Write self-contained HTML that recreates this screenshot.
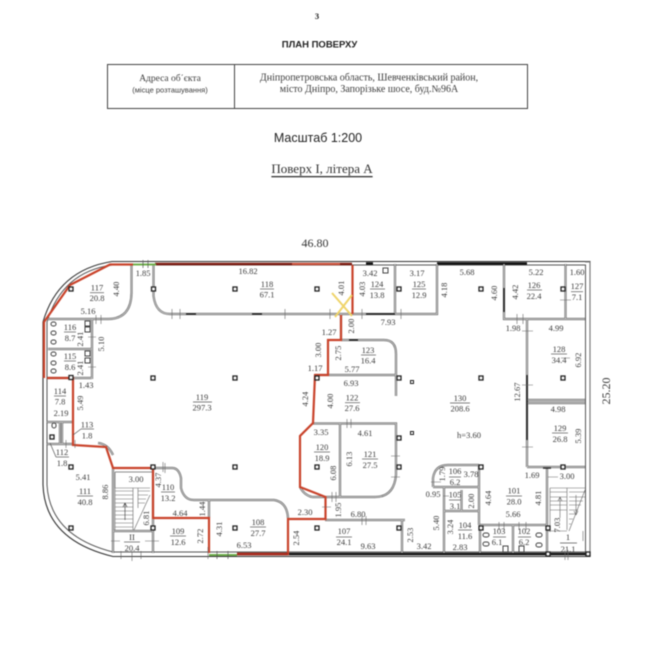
<!DOCTYPE html>
<html><head><meta charset="utf-8">
<style>
html,body{margin:0;padding:0;background:#fff}
svg{display:block;filter:blur(.4px)}
text{font-family:"Liberation Serif",serif;font-size:8.500px;fill:#3c3c3c;text-anchor:middle;dominant-baseline:central}
.s{font-family:"Liberation Sans",sans-serif}
.f line,.fl{stroke:#555;stroke-width:.7}
.c{fill:#fff;stroke:#222;stroke-width:1.3}
.t{stroke:#666;stroke-width:.6;fill:none}
</style></head><body>
<svg width="648" height="670" viewBox="0 0 648 670" xmlns="http://www.w3.org/2000/svg">
<defs>
<path id="w" fill="none" d="M131.500 264V293Q131 319 108 319H48M92 319V379M48 349H92M153.500 264V296Q156 314 170 314H437V264M395 264V314M504 264V319H585M565.500 264V319M527 319V467M527 400H585M527 403H585M527 467H585M547 467V554M480 525H547M479 465V525M433 487H479M444 487V553M461.500 490V511M444 511H479M480 525V553M513 525V553M433 487V478Q435 465 448 465H479M341 340H384Q396 340 396 354V396M315 375H396M341 314V340M313 423.500H396V475Q394 497 375 497H312M340 424V497M300 487Q304 495 312 497M325 520H405M402 520V553M153 468H172Q179 468 181 478V488Q184 500 194 500H274Q287 502 288 518M209 500V518M98 443Q108 444 113 455M113 468V553M153 468V553M113 531H153M47 422H73M47 378H92M47 444H73M60 422V444M62 422V444"/>
</defs>

<!-- header -->
<text x="317" y="16" style="font-weight:bold;fill:#222">3</text>
<text x="319.500" y="45" class="s" style="font-size:9.500px;font-weight:bold;fill:#222">ПЛАН ПОВЕРХУ</text>
<rect x="107.500" y="64.500" width="420" height="44" fill="none" stroke="#444" stroke-width="1"/>
<line x1="234.500" y1="64" x2="234.500" y2="109" stroke="#444"/>
<text x="170" y="79" style="font-size:9.500px">Адреса об΄єкта</text>
<text x="170" y="90" class="s" style="font-size:7.500px">(місце розташування)</text>
<text x="369" y="78" style="font-size:10px">Дніпропетровська область, Шевченківський район,</text>
<text x="369" y="89.500" style="font-size:10px">місто Дніпро, Запорізьке шосе, буд.№96А</text>
<text x="318" y="138" class="s" style="font-size:12.500px;fill:#222">Масштаб 1:200</text>
<text x="322" y="168.500" style="font-size:13px;fill:#333;text-decoration:underline">Поверх І, літера А</text>
<text x="315" y="243" style="font-size:12px;fill:#333">46.80</text>
<text x="606" y="391" transform="rotate(-90 606 391)" style="font-size:12px;fill:#333">25.20</text>

<!-- outer walls -->
<g fill="none">
<path d="M43 322Q58 270 112 261.500H590V556.500H113Q45 540 43 485Z" stroke="#333" stroke-width="1.100"/>
<path d="M47 322Q62 272 112 265H585.500V552H113Q50 536 47 485Z" stroke="#555" stroke-width="1"/>
<path d="M585 262H590V556H585" stroke="#777" stroke-width="1"/>
<path d="M366 263.500H373M437 263.500H527" stroke="#111" stroke-width="2.400"/>
<path d="M237 554H590" stroke="#111" stroke-width="2.400"/>
<use href="#w" stroke="#666" stroke-width="2.200"/>
<use href="#w" stroke="#c4c4c4" stroke-width="1"/>
<path d="M115 472H152M115 472V488" stroke="#666" stroke-width=".8"/>
<path d="M366 314H395M504 288V312M186 314H196M252 314H262M349 340H358M527 375V440M543 468H551" stroke="#222" stroke-width="1.400"/>
<path d="M155 264H352" stroke="#7f1d12" stroke-width="2.600"/>
<path d="M292 264H340" stroke="#d0553f" stroke-width="2"/>
<!-- red boundary -->
<path d="M44 378V322L70 285L110 264.500H133" stroke="#c9432b" stroke-width="2.200" stroke-linejoin="round"/>
<path d="M47 378H73V445L106 447L113 468H153V518H209V553" stroke="#c9432b" stroke-width="2.200"/>
<path d="M237 554H288V519H325.500V497L300 487V436L313 423L315 375H328V340H341V315M352.500 314V265" stroke="#c9432b" stroke-width="2.200"/>
<path d="M237 554H288" stroke="#a8281a" stroke-width="2.600"/>
<!-- green -->
<path d="M133 264.500H156M209 555H237" stroke="#6fb04c" stroke-width="2"/>
<path d="M143 260V268M148 260V268M217 551V559M228 551V559" stroke="#555" stroke-width=".7"/>
<!-- yellow X -->
<path d="M332 293L352 316M352 295L335 317" stroke="#efd46a" stroke-width="2"/>

<!-- ticks -->
<path class="t" d="M180 309V319M172 309V319M285 309V319M330 309V319M362 309V319M401 309V319M101 315V324M96 315V324M88 337H96M88 367H96M163 462V472M165 463V473M66 440V448M75 440V448M523 314V324M517 314V324M522 331H533M522 385H533M522 447H533M561 358H570M560 300H571M111 541H120M145 541H159M121 551V559M141 551V559M132 552V561M347 419V428M351 419V428M391 456H400M391 477H400M332 492V502M336 492V502M322 507H331M362 516V525M366 516V525M565 550V560M568 550V560M519 522V530M526 522V530M504 522V530M499 522V530M443 496H449M431 482H441M548 477H558M208 547V559"/>
</g>

<!-- stairs -->
<g class="t" stroke="#777">
<path d="M115 488H150M115 488V530M115 491H133M115 495H133M115 499H133M115 503H133M115 507H133M115 511H133M115 515H133M115 519H133M115 523H133M115 527H133M133 488V530M150 495L134 530M138 488V508M138 491H150M138 495H148M138 499H146M138 503H145"/>
<path d="M125 520V503M125 503L123 507M125 503L127 507" stroke="#333"/>
<path d="M550 488H585M550 488V532M550 492H567M550 497H567M550 501H567M550 505H567M550 510H567M569 492H585M569 497H585M569 501H583M569 505H581M569 510H578M569 514H575M569 519H573M569 524H571M567 488V530M585 490L569 531M560 518V497M560 497L558 501M560 497L562 501M576 495V515M576 515L574 511M576 515L578 511M547 531H567M583 531V541"/>
</g>

<!-- toilets -->
<g fill="#fff" stroke="#444" stroke-width="1">
<rect x="51" y="322" width="5" height="4" rx="2"/><rect x="51" y="331" width="5" height="4" rx="2"/><rect x="51" y="340" width="5" height="4" rx="2"/>
<rect x="51" y="352" width="5" height="4" rx="2"/><rect x="51" y="361" width="5" height="4" rx="2"/><rect x="51" y="369" width="5" height="4" rx="2"/>
<rect x="85" y="321" width="5" height="5"/><rect x="85" y="327" width="5" height="5"/><rect x="85" y="351" width="5" height="5"/><rect x="85" y="358" width="5" height="5"/>
<rect x="483" y="533" width="6" height="4" rx="2"/><rect x="483" y="542" width="6" height="4" rx="2"/><rect x="536" y="533" width="6" height="4" rx="2"/><rect x="536" y="543" width="6" height="4" rx="2"/>
<rect x="503" y="546" width="5" height="6"/><rect x="519" y="546" width="5" height="6"/>
<rect x="52" y="423" width="4" height="5" rx="2"/>
<rect x="383" y="268" width="5" height="5"/>
</g>

<!-- columns -->
<g class="c">
<rect x="69" y="287" width="4" height="4"/><rect x="151.500" y="287" width="4" height="4"/><rect x="233" y="287" width="4" height="4"/><rect x="315" y="287" width="4" height="4"/><rect x="397" y="287" width="4" height="4"/><rect x="479" y="287" width="4" height="4"/><rect x="561" y="287" width="4" height="4"/>
<rect x="69" y="375.500" width="4" height="4"/><rect x="151" y="376" width="4" height="4"/><rect x="233" y="376" width="4" height="4"/><rect x="315" y="376" width="4" height="4"/><rect x="397" y="376" width="4" height="4"/><rect x="479" y="376" width="4" height="4"/><rect x="561" y="376" width="4" height="4"/>
<rect x="69" y="465" width="4" height="4"/><rect x="151" y="465" width="4" height="4"/><rect x="233" y="465" width="4" height="4"/><rect x="315" y="465" width="4" height="4"/><rect x="397" y="465" width="4" height="4"/><rect x="479" y="465" width="4" height="4"/><rect x="561" y="465" width="4" height="4"/>
<rect x="69" y="526" width="4" height="4"/><rect x="151" y="526" width="4" height="4"/><rect x="233" y="526" width="4" height="4"/><rect x="315" y="526" width="4" height="4"/><rect x="397" y="526" width="4" height="4"/><rect x="479" y="526" width="4" height="4"/><rect x="546" y="526" width="4" height="4"/>
<rect x="397" y="436" width="4" height="4"/><rect x="410.500" y="380.500" width="3" height="3" stroke-width="1"/><rect x="410.500" y="431.500" width="3" height="3" stroke-width="1"/>
<rect x="50" y="435" width="4" height="4"/><rect x="546" y="552" width="4" height="4"/><rect x="586" y="552" width="4" height="4"/>
</g>

<!-- room labels -->
<g class="f">
<text x="97" y="287.500">117</text><line x1="90" x2="104" y1="292.700" y2="292.700"/><text x="97" y="298">20.8</text>
<text x="267" y="284">118</text><line x1="260" x2="274" y1="289" y2="289"/><text x="267" y="294.500">67.1</text>
<text x="377" y="284">124</text><line x1="370" x2="385" y1="289" y2="289"/><text x="377" y="295">13.8</text>
<text x="419" y="284">125</text><line x1="412" x2="426" y1="289" y2="289"/><text x="419" y="295">12.9</text>
<text x="534" y="285">126</text><line x1="527" x2="542" y1="290" y2="290"/><text x="534" y="296">22.4</text>
<text x="577" y="286">127</text><line x1="571" x2="583" y1="291.700" y2="291.700"/><text x="577" y="297">7.1</text>
<text x="70" y="327">116</text><line x1="64" x2="76" y1="332" y2="332"/><text x="70" y="338">8.7</text>
<text x="70" y="356">115</text><line x1="64" x2="76" y1="361" y2="361"/><text x="70" y="367">8.6</text>
<text x="60" y="391">114</text><line x1="54" x2="66" y1="396" y2="396"/><text x="60" y="401.500">7.8</text>
<text x="202" y="397">119</text><line x1="193" x2="212" y1="402" y2="402"/><text x="202" y="407.500">297.3</text>
<text x="368" y="350">123</text><line x1="361" x2="376" y1="355" y2="355"/><text x="368" y="360.500">16.4</text>
<text x="352" y="397.500">122</text><line x1="345" x2="360" y1="402.700" y2="402.700"/><text x="352" y="408">27.6</text>
<text x="460" y="398">130</text><line x1="450" x2="470" y1="403" y2="403"/><text x="460" y="408.500">208.6</text>
<text x="559" y="349">128</text><line x1="551" x2="567" y1="354" y2="354"/><text x="559" y="360">34.4</text>
<text x="560" y="428">129</text><line x1="552" x2="568" y1="433" y2="433"/><text x="560" y="439">26.8</text>
<text x="87" y="424.500">113</text><line x1="81" x2="94" y1="429" y2="429"/><line x1="81" x2="73" y1="429" y2="435"/><text x="87" y="435.500">1.8</text>
<text x="62" y="452">112</text><line x1="56" x2="69" y1="457" y2="457"/><line x1="56" x2="50" y1="457" y2="443"/><text x="62" y="463">1.8</text>
<text x="85" y="491">111</text><line x1="77" x2="93" y1="496" y2="496"/><text x="85" y="502">40.8</text>
<text x="168" y="487">110</text><line x1="161" x2="175" y1="492" y2="492"/><text x="168" y="498">13.2</text>
<text x="178" y="531">109</text><line x1="170" x2="186" y1="536" y2="536"/><text x="178" y="542">12.6</text>
<text x="258" y="522">108</text><line x1="250" x2="266" y1="527" y2="527"/><text x="258" y="533">27.7</text>
<text x="132" y="537">II</text><line x1="124" x2="140" y1="542" y2="542"/><text x="132" y="548">20.4</text>
<text x="322" y="447">120</text><line x1="314" x2="330" y1="452" y2="452"/><text x="322" y="458">18.9</text>
<text x="370" y="454">121</text><line x1="362" x2="378" y1="459" y2="459"/><text x="370" y="465">27.5</text>
<text x="344" y="531">107</text><line x1="336" x2="352" y1="537" y2="537"/><text x="344" y="542">24.1</text>
<text x="514" y="490.500">101</text><line x1="506" x2="522" y1="496" y2="496"/><text x="514" y="501.500">28.0</text>
<text x="455" y="471">106</text><line x1="449" x2="461" y1="477" y2="477"/><text x="455" y="482">6.2</text>
<text x="455" y="494.500">105</text><line x1="449" x2="461" y1="500" y2="500"/><text x="455" y="506">3.1</text>
<text x="465" y="525">104</text><line x1="458" x2="472" y1="530" y2="530"/><text x="465" y="536">11.6</text>
<text x="499" y="531">103</text><line x1="493" x2="506" y1="537" y2="537"/><text x="497" y="542">6.1</text>
<text x="524" y="531">102</text><line x1="518" x2="531" y1="537" y2="537"/><text x="524" y="542">6.2</text>
<text x="568" y="537">1</text><line x1="560" x2="577" y1="543" y2="543"/><text x="568" y="549">21.1</text>
</g>

<!-- horizontal dims -->
<g>
<text x="143" y="273">1.85</text><text x="88" y="311">5.16</text><text x="86" y="385">1.43</text><text x="61" y="413">2.19</text>
<text x="248" y="271">16.82</text><text x="370" y="273">3.42</text><text x="417" y="273">3.17</text><text x="388" y="322">7.93</text>
<text x="329" y="332">1.27</text><text x="315" y="368">1.17</text><text x="352" y="369">5.77</text><text x="351" y="383">6.93</text>
<text x="467" y="272">5.68</text><text x="536" y="272">5.22</text><text x="577" y="272">1.60</text><text x="513" y="328">1.98</text><text x="556" y="328">4.99</text>
<text x="558" y="409">4.98</text><text x="532" y="475">1.69</text><text x="567" y="476">3.00</text><text x="513" y="514">5.66</text>
<text x="471" y="474">3.78</text><text x="433" y="494">0.95</text><text x="460" y="547">2.83</text><text x="424" y="546">3.42</text>
<text x="83" y="477">5.41</text><text x="136" y="479">3.00</text><text x="180" y="513">4.64</text>
<text x="321" y="432">3.35</text><text x="365" y="433">4.61</text><text x="358" y="514">6.80</text><text x="305" y="512">2.30</text><text x="244" y="545">6.53</text><text x="368" y="546">9.63</text>
<text x="469" y="435">h=3.60</text>
</g>

<!-- rotated dims -->
<g>
<text x="116" y="289" transform="rotate(-90 116 289)">4.40</text>
<text x="101" y="344" transform="rotate(-90 101 344)">5.10</text>
<text x="80" y="339" transform="rotate(-90 80 339)">2.41</text>
<text x="80" y="368" transform="rotate(-90 80 368)">2.41</text>
<text x="80" y="403" transform="rotate(-90 80 403)">5.49</text>
<text x="341" y="288" transform="rotate(-90 341 288)">4.01</text>
<text x="362" y="289" transform="rotate(-90 362 289)">4.03</text>
<text x="351" y="326" transform="rotate(-90 351 326)">2.00</text>
<text x="318" y="350" transform="rotate(-90 318 350)">3.00</text>
<text x="338" y="353" transform="rotate(-90 338 353)">2.75</text>
<text x="305" y="399" transform="rotate(-90 305 399)">4.24</text>
<text x="330" y="401" transform="rotate(-90 330 401)">4.00</text>
<text x="444" y="290" transform="rotate(-90 444 290)">4.18</text>
<text x="494" y="293" transform="rotate(-90 494 293)">4.60</text>
<text x="515" y="292" transform="rotate(-90 515 292)">4.42</text>
<text x="578" y="360" transform="rotate(-90 578 360)">6.92</text>
<text x="517" y="392" transform="rotate(-90 517 392)">12.67</text>
<text x="578" y="436" transform="rotate(-90 578 436)">5.39</text>
<text x="538" y="498" transform="rotate(-90 538 498)">4.81</text>
<text x="488" y="498" transform="rotate(-90 488 498)">4.64</text>
<text x="442" y="474" transform="rotate(-90 442 474)">1.79</text>
<text x="471" y="501" transform="rotate(-90 471 501)">2.00</text>
<text x="436" y="523" transform="rotate(-90 436 523)">5.40</text>
<text x="450" y="527" transform="rotate(-90 450 527)">3.24</text>
<text x="410" y="535" transform="rotate(-90 410 535)">2.53</text>
<text x="557" y="525" transform="rotate(-90 557 525)">7.03</text>
<text x="105" y="492" transform="rotate(-90 105 492)">8.86</text>
<text x="158" y="480" transform="rotate(-90 158 480)">4.37</text>
<text x="202" y="509" transform="rotate(-90 202 509)">1.44</text>
<text x="200" y="536" transform="rotate(-90 200 536)">2.72</text>
<text x="219" y="529" transform="rotate(-90 219 529)">4.31</text>
<text x="146" y="518" transform="rotate(-90 146 518)">6.81</text>
<text x="349" y="459" transform="rotate(-90 349 459)">6.13</text>
<text x="333" y="473" transform="rotate(-90 333 473)">6.08</text>
<text x="338" y="510" transform="rotate(-90 338 510)">1.95</text>
<text x="296" y="538" transform="rotate(-90 296 538)">2.54</text>
</g>
</svg>
</body></html>
